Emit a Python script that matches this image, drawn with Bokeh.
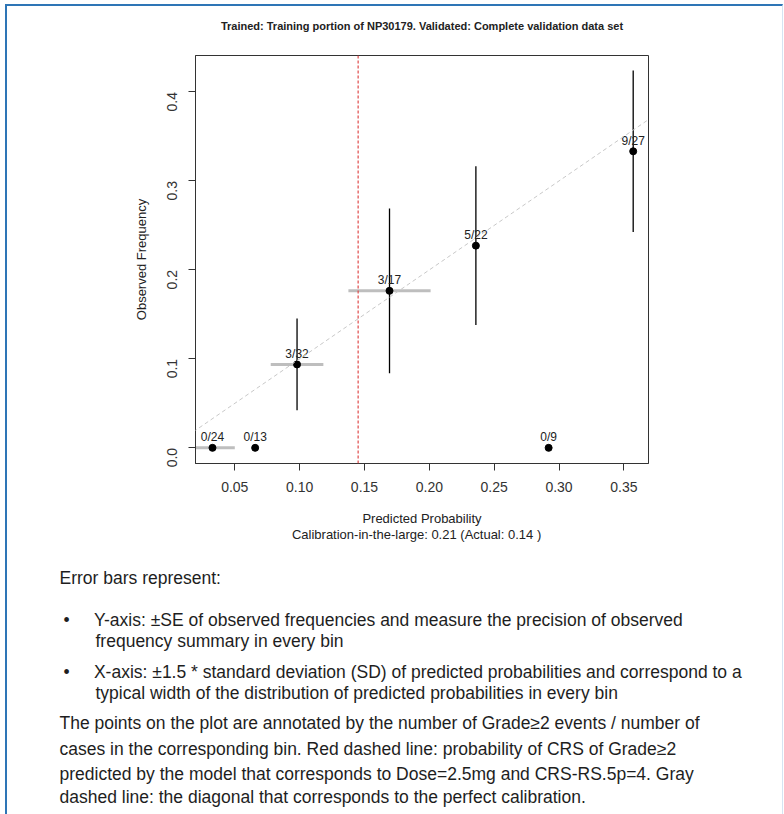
import math
from bokeh.plotting import figure
from bokeh.layouts import column
from bokeh.models import (Slope, Span, FixedTicker, PrintfTickFormatter,
                          Range1d, Title)
from bokeh.embed import file_html
from bokeh.resources import INLINE
from bokeh.core.properties import value

# ---- data ----
pred_prob = [0.0328, 0.0657, 0.0980, 0.1693, 0.2359, 0.2920, 0.3572]
events = [0, 0, 3, 3, 5, 0, 9]
cases = [24, 13, 32, 17, 22, 9, 27]
obs_freq = [0.0, 0.0, 0.09375, 0.17647, 0.22727, 0.0, 0.33333]
obs_se = [0.0, 0.0, 0.0515, 0.0925, 0.0893, 0.0, 0.0907]
pred_halfwidth = [0.0172, 0.0, 0.0203, 0.0317, 0.0, 0.0, 0.0]
model_prob = 0.1451
x_ticks = [0.05, 0.10, 0.15, 0.20, 0.25, 0.30, 0.35]
y_ticks = [0.0, 0.1, 0.2, 0.3, 0.4]
point_labels = [f"{e}/{n}" for e, n in zip(events, cases)]

title_text = "Trained: Training portion of NP30179. Validated: Complete validation data set"
x_label = "Predicted Probability"
sub_label = "Calibration-in-the-large:  0.21  (Actual:  0.14 )"
y_label = "Observed Frequency"
para_lines = [
    "Error bars represent:",
    "Y-axis: \u00b1SE of observed frequencies and measure the precision of observed",
    "frequency summary in every bin",
    "X-axis: \u00b11.5 * standard deviation (SD) of predicted probabilities and correspond to a",
    "typical width of the  distribution of predicted probabilities in every bin",
    "The points on the plot are annotated by the number of Grade\u22652 events / number of",
    "cases in the corresponding bin. Red dashed line:  probability of CRS of Grade\u22652",
    "predicted by the model that corresponds to Dose=2.5mg and CRS-RS.5p=4. Gray",
    "dashed line: the diagonal that corresponds to the perfect calibration.",
]
para_kind = [0, 1, 2, 1, 2, 0, 0, 0, 0]   # 0 plain, 1 bullet, 2 bullet continuation

FONT = "Liberation Sans"
W = 775
H = 808
FRAME_LEFT_PAGE = 195

p = figure(width=W, height=H,
           x_range=Range1d(0.0197, 0.369), y_range=Range1d(-0.0176, 0.441),
           output_backend="svg", toolbar_location=None,
           min_border_left=188, min_border_right=134,
           min_border_top=49, min_border_bottom=H - 457)
p.grid.visible = False
p.outline_line_color = "#333333"
p.outline_line_width = 1
p.background_fill_color = "white"
p.border_fill_color = "white"

p.title.text = title_text + "\n"
p.title.align = "center"
p.title.text_font = FONT
p.title.text_font_style = "bold"
p.title.text_font_size = "11px"
p.title.text_color = "#222222"
p.title.standoff = 23

# reference lines
p.add_layout(Slope(gradient=1, y_intercept=0, line_color="#c8c8c8",
                   line_dash="4 3", line_width=1))
p.add_layout(Span(location=model_prob, dimension="height", line_color="#e04848",
                  line_dash="3 2", line_width=1.2))

# horizontal (predicted) error bars
hx0 = [x - h for x, h in zip(pred_prob, pred_halfwidth) if h > 0]
hx1 = [x + h for x, h in zip(pred_prob, pred_halfwidth) if h > 0]
hy = [y for y, h in zip(obs_freq, pred_halfwidth) if h > 0]
p.segment(x0=hx0, x1=hx1, y0=hy, y1=hy, line_color="#bebebe", line_width=3)

# vertical (observed) error bars
vx = [x for x, s in zip(pred_prob, obs_se) if s > 0]
vy0 = [y - s for y, s in zip(obs_freq, obs_se) if s > 0]
vy1 = [y + s for y, s in zip(obs_freq, obs_se) if s > 0]
p.segment(x0=vx, x1=vx, y0=vy0, y1=vy1, line_color="black", line_width=1.3)

p.scatter(pred_prob, obs_freq, size=7, color="black")
p.text(x=pred_prob, y=obs_freq, text=point_labels, text_align="center",
       text_baseline="alphabetic", y_offset=-10.5, text_font=value(FONT),
       text_font_size="12px", text_color="#222222")

for ax in (p.xaxis[0], p.yaxis[0]):
    ax.major_tick_out = 7
    ax.major_tick_in = 0
    ax.minor_tick_line_color = None
    ax.axis_line_color = "#333333"
    ax.major_tick_line_color = "#333333"
    ax.major_label_text_font = FONT
    ax.major_label_text_font_size = "14px"
    ax.major_label_text_color = "#333333"
    ax.axis_label_text_font = FONT
    ax.axis_label_text_font_size = "13px"
    ax.axis_label_text_font_style = "normal"
    ax.axis_label_text_color = "#222222"

p.xaxis.ticker = FixedTicker(ticks=x_ticks)
p.xaxis.formatter = PrintfTickFormatter(format="%.2f")
p.xaxis.major_label_standoff = 11
p.xaxis.axis_label = x_label
p.xaxis.axis_label_standoff = 16

p.yaxis.ticker = FixedTicker(ticks=y_ticks)
p.yaxis.formatter = PrintfTickFormatter(format="%.1f")
p.yaxis.major_label_orientation = math.pi / 2
p.yaxis.major_label_standoff = 16
p.yaxis.axis_label = y_label
p.yaxis.axis_label_standoff = 11

# subtitle under the x axis label
p.add_layout(Title(text=sub_label, align="center", vertical_align="top",
                   text_font=FONT, text_font_size="13px", text_font_style="normal",
                   text_color="#222222", standoff=-3), "below")

# explanatory paragraph, stacked below
gaps = [50, -10, 8, 10, -12, 29, -22, 28, -26]
NBSP = "\u00a0"
for s, k, g in zip(para_lines, para_kind, gaps):
    if k == 1:
        txt = "\u2022" + NBSP * 5 + s
        x_page = 63
    elif k == 2:
        txt = s
        x_page = 95
    else:
        txt = s
        x_page = 59
    p.add_layout(Title(text=txt, align="left", vertical_align="top",
                       offset=x_page - FRAME_LEFT_PAGE,
                       text_font=FONT, text_font_size="17.5px",
                       text_font_style="normal", text_color="#1e1e1e",
                       standoff=g), "below")

layout = column(p, spacing=0,
                styles={"border-top": "2px solid #2e75b6",
                        "border-left": "2px solid #2e75b6",
                        "border-right": "1px solid #d6e4f2",
                        "margin-left": "5px", "margin-top": "4px"})

open("out.html", "w").write(file_html(layout, INLINE))
